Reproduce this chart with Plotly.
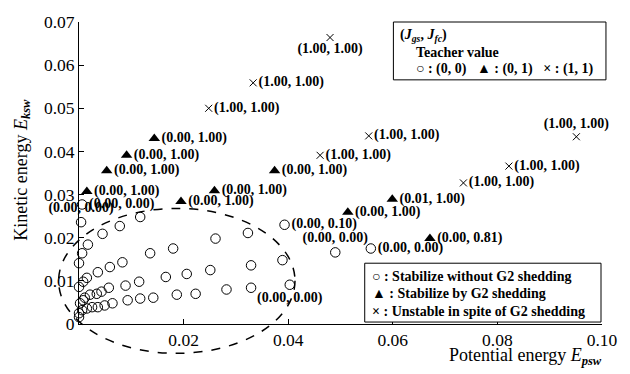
import plotly.graph_objects as go

# ---------------- data ----------------
circle_x = [0.0006, 0.0004, 0.0017, 0.0006, 0.0000, 0.0045, 0.0078, 0.0117, 0.0136, 0.0083,
            0.0059, 0.0036, 0.0015, 0.0008, 0.0000, 0.0115, 0.0089, 0.0057, 0.0043, 0.0034,
            0.0021, 0.0011, 0.0008, 0.0002, 0.0142, 0.0117, 0.0093, 0.0064, 0.0049, 0.0036,
            0.0025, 0.0015, 0.0006, 0.0000, 0.0000,
            0.0187, 0.0223, 0.0282, 0.0329, 0.0403, 0.0166, 0.0206, 0.0251, 0.0329, 0.0389,
            0.0261, 0.0323, 0.0180, 0.0393, 0.0490, 0.0558]
circle_y = [0.0277, 0.0236, 0.0184, 0.0164, 0.0141, 0.0209, 0.0227, 0.0248, 0.0164, 0.0143,
            0.0132, 0.0120, 0.0107, 0.0098, 0.0086, 0.0098, 0.0089, 0.0084, 0.0075, 0.0070,
            0.0068, 0.0061, 0.0055, 0.0048, 0.0061, 0.0059, 0.0055, 0.0048, 0.0043, 0.0039,
            0.0039, 0.0036, 0.0032, 0.0025, 0.0016,
            0.0068, 0.0070, 0.0080, 0.0084, 0.0091, 0.0109, 0.0116, 0.0125, 0.0136, 0.0148,
            0.0198, 0.0211, 0.0175, 0.0230, 0.0166, 0.0175]
circle_labels = ["(0.00, 0.00)", "(0.00, 0.00)"] + [""] * 37 + ["(0.00, 0.00)"] + [""] * 8 + \
                ["(0.00, 0.10)", "(0.00, 0.00)", "(0.00, 0.00)"]
circle_labelpos = ["middle right", "top center"] + ["middle right"] * 37 + ["bottom center"] + \
                  ["middle right"] * 8 + ["middle right", "top center", "middle right"]

tri_x = [0.0144, 0.0091, 0.0053, 0.0015, 0.0374, 0.0259, 0.0195, 0.0599, 0.0514, 0.0671]
tri_y = [0.0430, 0.0391, 0.0355, 0.0307, 0.0355, 0.0309, 0.0284, 0.0289, 0.0259, 0.0198]
tri_labels = ["(0.00, 1.00)"] * 7 + ["(0.01, 1.00)", "(0.00, 1.00)", "(0.00, 0.81)"]

cross_x = [0.0480, 0.0333, 0.0248, 0.0554, 0.0461, 0.0951, 0.0822, 0.0735]
cross_y = [0.0664, 0.0559, 0.0500, 0.0436, 0.0391, 0.0434, 0.0366, 0.0327]
cross_labels = ["(1.00, 1.00)"] * 8
cross_labelpos = ["bottom center", "middle right", "middle right", "middle right",
                  "middle right", "top center", "middle right", "middle right"]

x_ticks = [0.02, 0.04, 0.06, 0.08, 0.10]
x_ticktext = ["0.02", "0.04", "0.06", "0.08", "0.10"]
y_ticks = [0, 0.01, 0.02, 0.03, 0.04, 0.05, 0.06, 0.07]
y_ticktext = ["0", "0.01", "0.02", "0.03", "0.04", "0.05", "0.06", "0.07"]

# dashed ellipse (data units)
ell_cx, ell_cy, ell_rx, ell_ry = 0.0187, 0.0100, 0.0226, 0.0168

X_RANGE = [0, 0.10]
Y_RANGE = [0, 0.07]

# ---------------- figure ----------------
SERIF = "Liberation Serif, Times New Roman, serif"
W, H = 630, 374
ML, MR, MT, MB = 79, 22, 16, 50
PW, PH = W - ML - MR, H - MT - MB


def px(xp):
    return (xp - ML) / PW


def py(yp):
    return (H - MB - yp) / PH


lab_font = dict(family=SERIF, size=14, color="black", weight=700)

fig = go.Figure()
fig.add_trace(go.Scatter(
    x=circle_x, y=circle_y, mode="markers+text", text=circle_labels,
    textposition=circle_labelpos, textfont=lab_font,
    marker=dict(symbol="circle-open", size=9.5, color="black", line=dict(width=1)),
    cliponaxis=False, showlegend=False))
fig.add_trace(go.Scatter(
    x=tri_x, y=tri_y, mode="markers+text", text=tri_labels,
    textposition="middle right", textfont=lab_font,
    marker=dict(symbol="triangle-up", size=10, color="black"),
    cliponaxis=False, showlegend=False))
fig.add_trace(go.Scatter(
    x=cross_x, y=cross_y, mode="markers+text", text=cross_labels,
    textposition=cross_labelpos, textfont=lab_font,
    marker=dict(symbol="x-thin-open", size=7, color="black", line=dict(width=1, color="black")),
    cliponaxis=False, showlegend=False))


def dx(v):
    return (v - X_RANGE[0]) / (X_RANGE[1] - X_RANGE[0])


def dy(v):
    return (v - Y_RANGE[0]) / (Y_RANGE[1] - Y_RANGE[0])


# ellipse in paper coordinates (so it is not clipped below the x axis)
fig.add_shape(type="circle", xref="paper", yref="paper",
              x0=dx(ell_cx - ell_rx), x1=dx(ell_cx + ell_rx),
              y0=dy(ell_cy - ell_ry), y1=dy(ell_cy + ell_ry),
              line=dict(color="black", width=1.5, dash="dash"), layer="above")

# legend boxes
fig.add_shape(type="rect", xref="paper", yref="paper",
              x0=px(397), x1=px(612), y0=py(75), y1=py(16),
              line=dict(color="black", width=1), fillcolor="white", layer="above")
fig.add_shape(type="rect", xref="paper", yref="paper",
              x0=px(368), x1=px(607), y0=py(322), y1=py(262),
              line=dict(color="black", width=1), fillcolor="white", layer="above")

leg_font = dict(family=SERIF, size=14, color="black", weight=700)
legend_lines = [
    (402, 30, "(<i>J</i><sub><i>gs</i></sub>, <i>J</i><sub><i>fc</i></sub>)"),
    (418, 47, "Teacher value"),
    (418, 64, "○ : (0, 0)   ▲ : (0, 1)   × : (1, 1)"),
    (373, 276, "○ : Stabilize without G2 shedding"),
    (373, 293, "▲ : Stabilize by G2 shedding"),
    (373, 311, "× : Unstable in spite of G2 shedding"),
]
for xp, yp, t in legend_lines:
    fig.add_annotation(x=px(xp), y=py(yp), xref="paper", yref="paper", text=t,
                       showarrow=False, xanchor="left", yanchor="middle", font=leg_font)

# axis titles
fig.add_annotation(x=px(610), y=py(357), xref="paper", yref="paper",
                   text="Potential energy <i>E</i><sub><b><i>psw</i></b></sub>",
                   showarrow=False, xanchor="right", yanchor="middle",
                   font=dict(family=SERIF, size=18, color="black"))
fig.add_annotation(x=px(21), y=py(167), xref="paper", yref="paper",
                   text="Kinetic energy <i>E</i><sub><b><i>ksw</i></b></sub>",
                   showarrow=False, xanchor="center", yanchor="middle", textangle=-90,
                   font=dict(family=SERIF, size=18, color="black"))

axis_common = dict(showgrid=False, zeroline=False, showline=True, linecolor="black",
                   linewidth=1, ticks="inside", ticklen=5, tickcolor="black",
                   tickfont=dict(family=SERIF, size=17.5, color="black"))
fig.update_xaxes(range=X_RANGE, tickvals=x_ticks, ticktext=x_ticktext, **axis_common)
fig.update_yaxes(range=Y_RANGE, tickvals=y_ticks, ticktext=y_ticktext, **axis_common)

fig.update_layout(width=W, height=H, margin=dict(l=ML, r=MR, t=MT, b=MB),
                  plot_bgcolor="white", paper_bgcolor="white", showlegend=False)

fig.write_html("out.html", config={"displayModeBar": False},
               post_script="document.body.style.margin='0px';")
